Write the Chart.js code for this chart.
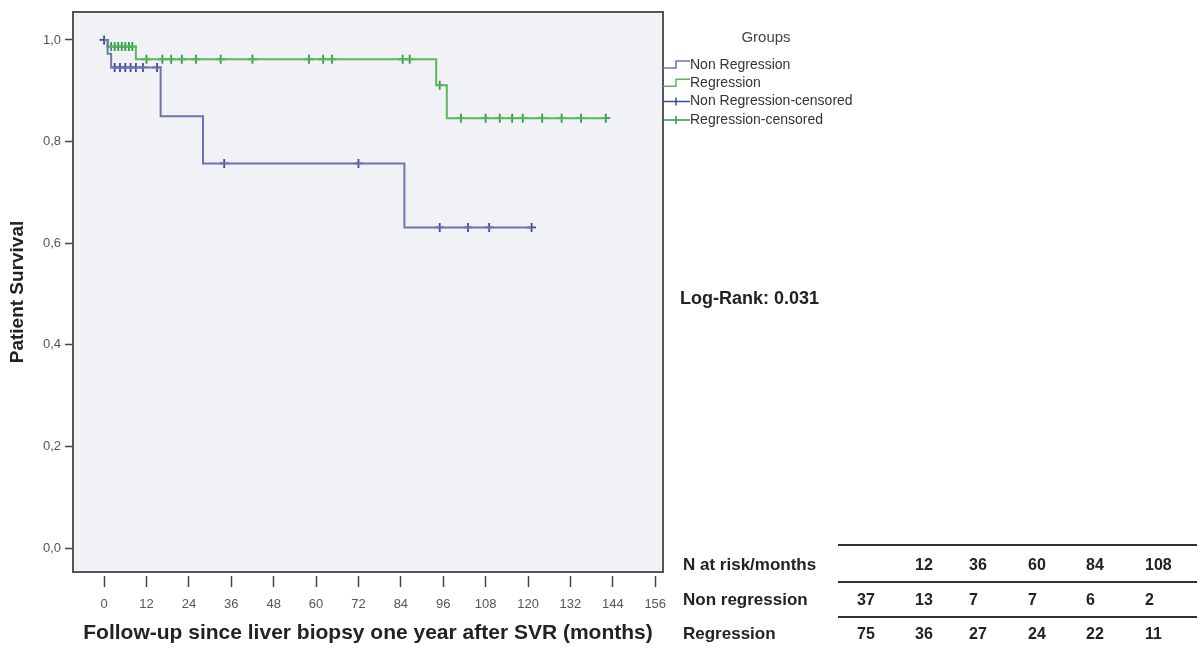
<!DOCTYPE html>
<html>
<head>
<meta charset="utf-8">
<script src="https://cdn.jsdelivr.net/npm/chart.js@4"></script>
<style>
  body { margin: 0; background: #fff; overflow: hidden; }
  #wrap { position: relative; width: 1197px; height: 650px; font-family: Arial, "Liberation Sans", sans-serif; }
  #c { position: absolute; left: 0; top: 0; }
  .txt { position: absolute; font-weight: bold; color: #222; white-space: nowrap; }
  .rule { position: absolute; left: 838px; width: 359px; height: 0; border-top: 2px solid #333; }
</style>
</head>
<body>
<div id="wrap">
  <canvas id="c" width="1197" height="650"></canvas>
</div>
<script>
// Kaplan-Meier steps (months, survival)
var nrTimes = [0, 1, 2, 16, 28, 85, 121];
var nrSurv = [1.0, 0.973, 0.946, 0.85, 0.757, 0.631, 0.631];
var rTimes = [0, 1, 9, 94, 97, 142];
var rSurv = [1.0, 0.987, 0.962, 0.911, 0.846, 0.846];

// censored observations (months)
var nrCensor = [0, 3, 4.5, 6, 7.5, 9, 11, 15, 34, 72, 95, 103, 109, 121];
var rCensor = [2, 3, 4, 5, 6, 7, 8, 12, 16.5, 19, 22, 26, 33, 42, 58, 62, 64.5, 84.5, 86.5, 95, 101, 108, 112, 115.5, 118.5, 124, 129.5, 135, 142];

var xTicks = [0, 12, 24, 36, 48, 60, 72, 84, 96, 108, 120, 132, 144, 156];
var yTicks = [0, 0.2, 0.4, 0.6, 0.8, 1.0];

var legendLabels = ['Non Regression', 'Regression', 'Non Regression-censored', 'Regression-censored'];

// numbers at risk
var riskMonths = ['', '12', '36', '60', '84', '108'];
var nrRisk = [37, 13, 7, 7, 6, 2];
var rRisk = [75, 36, 27, 24, 22, 11];

var blueLine = '#7272b2';
var blueMark = '#3a4c9e';
var greenLine = '#5cb65c';
var greenMark = '#2f9a40';
var font = 'Arial, "Liberation Sans", sans-serif';

function steps(times, surv) {
  return times.map(function (t, i) { return { x: t, y: surv[i] }; });
}
function survAt(times, surv, t) {
  var s = surv[0];
  for (var i = 0; i < times.length; i++) { if (times[i] <= t) s = surv[i]; }
  return s;
}
function marks(cens, times, surv) {
  return cens.map(function (t) { return { x: t, y: survAt(times, surv, t) }; });
}

var areaPlugin = {
  id: 'area',
  beforeDraw: function (chart) {
    var a = chart.chartArea, ctx = chart.ctx;
    ctx.save();
    ctx.fillStyle = '#f0f2f5';
    ctx.fillRect(a.left, a.top, a.right - a.left, a.bottom - a.top);
    ctx.restore();
  },
  afterDraw: function (chart) {
    var a = chart.chartArea, ctx = chart.ctx;
    ctx.save();
    ctx.strokeStyle = '#555';
    ctx.lineWidth = 2;
    ctx.strokeRect(a.left, a.top, a.right - a.left, a.bottom - a.top);

    // legend
    var lx = a.right;
    ctx.fillStyle = '#444';
    ctx.font = '15px ' + font;
    ctx.textAlign = 'center';
    ctx.textBaseline = 'middle';
    ctx.fillText('Groups', 766, 38);
    ctx.textAlign = 'left';
    ctx.font = '14px ' + font;
    var cols = [blueLine, greenLine, blueMark, greenMark];
    for (var i = 0; i < legendLabels.length; i++) {
      var y = 65 + i * 18.3;
      ctx.strokeStyle = cols[i];
      ctx.lineWidth = 1.5;
      ctx.beginPath();
      if (i < 2) {
        ctx.moveTo(lx, y + 3); ctx.lineTo(lx + 13, y + 3);
        ctx.lineTo(lx + 13, y - 4); ctx.lineTo(lx + 27, y - 4);
      } else {
        ctx.moveTo(lx, y); ctx.lineTo(lx + 27, y);
        ctx.moveTo(lx + 13, y - 4); ctx.lineTo(lx + 13, y + 4);
      }
      ctx.stroke();
      ctx.fillStyle = '#333';
      ctx.fillText(legendLabels[i], lx + 27, y);
    }
    ctx.restore();
  }
};

new Chart('c', {
  type: 'line',
  data: {
    datasets: [{
      label: legendLabels[0],
      data: steps(nrTimes, nrSurv),
      borderColor: blueLine,
      borderWidth: 2,
      stepped: true,
      pointRadius: 0
    }, {
      label: legendLabels[1],
      data: steps(rTimes, rSurv),
      borderColor: greenLine,
      borderWidth: 2,
      stepped: true,
      pointRadius: 0
    }, {
      label: legendLabels[2],
      data: marks(nrCensor, nrTimes, nrSurv),
      showLine: false,
      pointStyle: 'cross',
      pointRadius: 4.5,
      pointBorderWidth: 1.8,
      borderColor: blueMark
    }, {
      label: legendLabels[3],
      data: marks(rCensor, rTimes, rSurv),
      showLine: false,
      pointStyle: 'cross',
      pointRadius: 4.5,
      pointBorderWidth: 1.8,
      borderColor: greenMark
    }]
  },
  options: {
    responsive: false,
    animation: false,
    layout: { padding: { top: 12, right: 534, left: 0, bottom: 0 } },
    plugins: {
      legend: { display: false },
      tooltip: { enabled: false }
    },
    scales: {
      x: {
        type: 'linear',
        min: -8.8,
        max: 158.2,
        afterBuildTicks: function (s) { s.ticks = xTicks.map(function (v) { return { value: v }; }); },
        afterFit: function (s) { s.height = 78; },
        border: { display: false },
        grid: {
          drawOnChartArea: false,
          tickLength: 15,
          tickColor: '#444',
          tickWidth: 1.5,
          tickBorderDash: [0, 4, 11, 40]
        },
        ticks: { color: '#555', font: { family: font, size: 13 }, padding: 10, maxRotation: 0, autoSkip: false },
        title: {
          display: true,
          text: 'Follow-up since liver biopsy one year after SVR (months)',
          color: '#222',
          font: { family: font, size: 21, weight: 'bold' },
          padding: { top: 0, bottom: 4 }
        }
      },
      y: {
        min: -0.047,
        max: 1.055,
        afterBuildTicks: function (s) { s.ticks = yTicks.map(function (v) { return { value: v }; }); },
        afterFit: function (s) { s.width = 73; },
        border: { display: false },
        grid: { drawOnChartArea: false, tickLength: 8, tickColor: '#444', tickWidth: 1.5 },
        ticks: {
          color: '#555',
          font: { family: font, size: 13 },
          padding: 4,
          callback: function (v) { return v.toFixed(1).replace('.', ','); }
        },
        title: {
          display: true,
          text: 'Patient Survival',
          color: '#222',
          font: { family: font, size: 19, weight: 'bold' },
          padding: { top: 6, bottom: 0 }
        }
      }
    }
  },
  plugins: [areaPlugin]
});

// log-rank text and numbers-at-risk table
var wrap = document.getElementById('wrap');
function addText(str, left, top, size) {
  var d = document.createElement('div');
  d.className = 'txt';
  d.textContent = str;
  d.style.left = left + 'px';
  d.style.top = top + 'px';
  d.style.fontSize = size + 'px';
  d.style.lineHeight = '20px';
  wrap.appendChild(d);
}
function addRule(top) {
  var d = document.createElement('div');
  d.className = 'rule';
  d.style.top = top + 'px';
  wrap.appendChild(d);
}
addText('Log-Rank: 0.031', 680, 288, 18);

var colLeft = [857, 915, 969, 1028, 1086, 1145];
var rows = [
  { label: 'N at risk/months', values: riskMonths, top: 555 },
  { label: 'Non regression', values: nrRisk, top: 590 },
  { label: 'Regression', values: rRisk, top: 624 }
];
rows.forEach(function (r) {
  addText(r.label, 683, r.top, 17);
  r.values.forEach(function (v, i) { addText(String(v), colLeft[i], r.top, 16); });
});
[544, 581, 616].forEach(addRule);
</script>
</body>
</html>
